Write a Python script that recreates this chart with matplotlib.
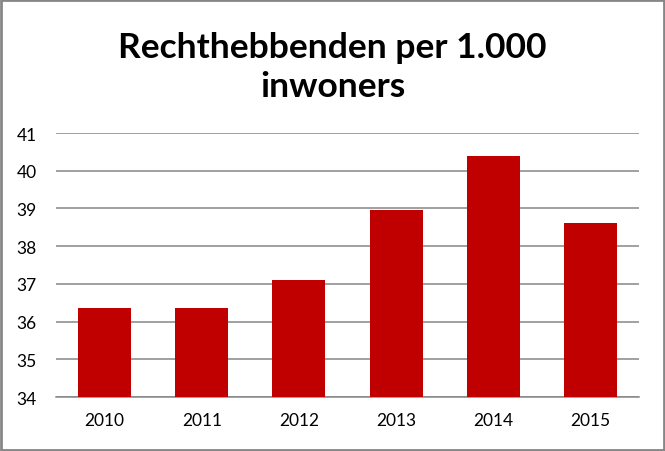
import matplotlib
matplotlib.use("Agg")
import matplotlib.pyplot as plt
from matplotlib.patches import Rectangle

years = ["2010", "2011", "2012", "2013", "2014", "2015"]
values = [36.36, 36.36, 37.11, 38.95, 40.38, 38.61]
yticks = [34, 35, 36, 37, 38, 39, 40, 41]
title = "Rechthebbenden per 1.000\ninwoners"

plt.rcParams['font.family'] = ['Lato', 'DejaVu Sans']

fig = plt.figure(figsize=(6.65, 4.52), dpi=100)
ax = fig.add_axes([56/665, (452-398)/452, (639-56)/665, (398-134)/452])

x = range(len(years))
ax.bar(x, values, width=0.545, color="#C00000", zorder=3)
ax.set_ylim(34, 41)
ax.set_xlim(-0.5, len(years) - 0.5)
ax.set_yticks(yticks)
ax.set_xticks(list(x))
ax.set_xticklabels(years)
ax.yaxis.grid(True, color="#868686", linewidth=1.1, zorder=0)
ax.set_axisbelow(True)
for s in ["top", "right", "left"]:
    ax.spines[s].set_visible(False)
ax.spines["bottom"].set_color("#868686")
ax.spines["bottom"].set_linewidth(1.1)
ax.tick_params(axis="both", length=0, labelsize=12.5, colors="black")
ax.tick_params(axis="x", pad=11)
ax.tick_params(axis="y", pad=14)

fig.text(0.5, 0.851, title, ha="center", va="center", fontsize=25.5,
         fontweight="bold", linespacing=1.27)

fig.patches.append(Rectangle((0.002, 0.003), 0.996, 0.994, transform=fig.transFigure,
                             fill=False, edgecolor="#868686", linewidth=2))

fig.savefig("out.png", dpi=100)
